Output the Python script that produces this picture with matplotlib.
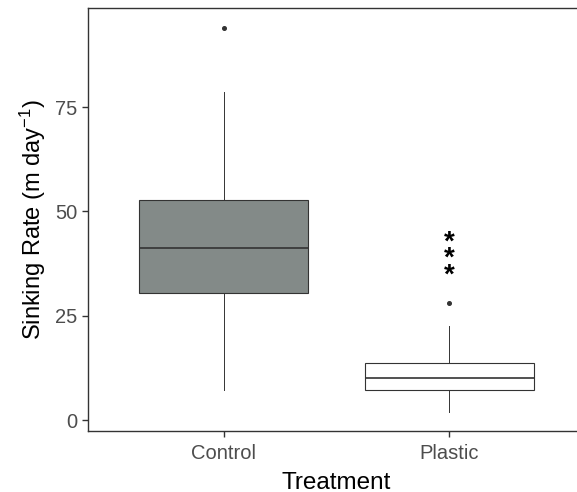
import matplotlib
matplotlib.use("Agg")
import matplotlib.pyplot as plt

plt.rcParams["font.family"] = ["Liberation Sans", "DejaVu Sans"]
plt.rcParams["mathtext.fontset"] = "custom"
plt.rcParams["mathtext.rm"] = "Liberation Sans"
plt.rcParams["mathtext.it"] = "Liberation Sans:italic"

# --- data ---
groups = ["Control", "Plastic"]
q1 = [30.4, 7.2]
med = [41.2, 10.0]
q3 = [52.7, 13.8]
whis_lo = [7.2, 2.0]
whis_hi = [78.6, 22.5]
outliers = [[93.9], [28.0]]
fills = ["#838A88", "#FFFFFF"]
signif_label = "*\n*\n*"
signif_y = 38.6

stats = []
for i, g in enumerate(groups):
    stats.append(dict(label=g, q1=q1[i], med=med[i], q3=q3[i],
                      whislo=whis_lo[i], whishi=whis_hi[i], fliers=outliers[i]))

W, H, DPI = 577, 492, 100
fig = plt.figure(figsize=(W / DPI, H / DPI), dpi=DPI)
# panel runs off the right edge like the reference
ax = fig.add_axes([88 / W, 1 - 431 / H, (585 - 88) / W, (431 - 8.5) / H])

edge = "#333333"
bp = ax.bxp(stats, positions=[1, 2], widths=0.75, patch_artist=True,
            showcaps=False,
            boxprops=dict(edgecolor=edge, linewidth=0.8),
            medianprops=dict(color=edge, linewidth=1.2),
            whiskerprops=dict(color=edge, linewidth=0.7),
            flierprops=dict(marker="o", markersize=2.6, markerfacecolor=edge,
                            markeredgecolor=edge))
for patch, c in zip(bp["boxes"], fills):
    patch.set_facecolor(c)

ax.text(2, signif_y, signif_label, ha="center", va="center",
        fontsize=20, fontweight="bold", linespacing=0.51)

ax.set_xlim(0.4, 2.6)
ax.set_ylim(-2.6, 98.6)
ax.set_yticks([0, 25, 50, 75])
ax.set_xticks([1, 2])
ax.set_xticklabels(groups)

for s in ax.spines.values():
    s.set_color(edge)
    s.set_linewidth(1.0)
ax.tick_params(colors=edge, labelcolor="#4D4D4D", labelsize=14.5, length=4, width=1.0)
ax.tick_params(axis="x", pad=5.5)

ax.set_xlabel("Treatment", fontsize=17.5, labelpad=6)
ax.set_ylabel("Sinking Rate (m day$^{-1}$)", fontsize=17, labelpad=5)

fig.savefig("out.png", dpi=DPI)
